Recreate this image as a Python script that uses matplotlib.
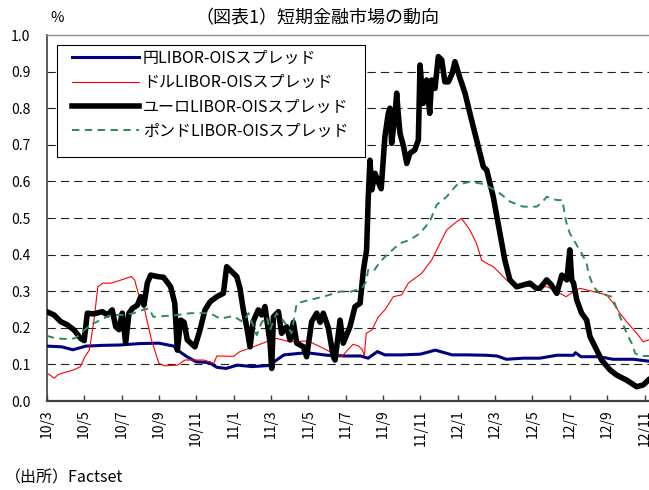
import matplotlib
matplotlib.use("Agg")
import matplotlib.pyplot as plt
from matplotlib.patches import Rectangle

plt.rcParams['font.family'] = ['Noto Sans CJK JP', 'DejaVu Sans']

# x positions are months counted from March 2010 (0 = 10/3)
tick_pos = list(range(0, 33, 2))
tick_labels = ['10/3', '10/5', '10/7', '10/9', '10/11', '11/1', '11/3', '11/5', '11/7',
               '11/9', '11/11', '12/1', '12/3', '12/5', '12/7', '12/9', '12/11']

yen_m = [0, 0.8, 1.4, 2.1, 3.0, 3.9, 5.0, 6.0, 6.8, 7.0, 7.5, 8.0, 8.7, 9.1, 9.6, 10.2,
         11.0, 11.9, 12.3, 12.7, 13.9, 15.0, 16.0, 16.8, 17.2, 17.7, 18.1, 19.0, 20.0,
         20.8, 21.7, 22.5, 23.5, 24.1, 24.6, 25.5, 26.4, 27.3, 28.2, 28.3, 28.6, 29.6,
         30.3, 31.4, 32.2]
yen_v = [0.150, 0.148, 0.140, 0.150, 0.152, 0.153, 0.157, 0.158, 0.150, 0.139, 0.121,
         0.107, 0.105, 0.092, 0.089, 0.098, 0.094, 0.097, 0.112, 0.126, 0.132, 0.125,
         0.123, 0.123, 0.117, 0.135, 0.126, 0.126, 0.128, 0.139, 0.126, 0.126, 0.125,
         0.123, 0.114, 0.117, 0.117, 0.125, 0.125, 0.132, 0.121, 0.121, 0.114, 0.114,
         0.109]

usd_m = [0, 0.2, 0.4, 0.6, 0.9, 1.45, 1.8, 2.04, 2.28, 2.55, 2.73, 3.0, 3.45, 4.0, 4.52,
         4.7, 4.9, 5.24, 5.6, 6.0, 6.3, 7.0, 7.4, 7.7, 8.4, 8.95, 9.1, 10.0, 10.34, 11.05,
         11.77, 12.3, 13.0, 14.0, 14.8, 15.34, 15.79, 16.1, 16.4, 16.7, 16.9, 17.0, 17.1,
         17.4, 17.75, 18.1, 18.55, 19.0, 19.35, 20.07, 20.6, 21.05, 21.4, 21.94, 22.2,
         22.65, 23.0, 23.28, 23.55, 23.9, 24.26, 24.6, 25.0, 26.04, 26.8, 27.47, 27.8,
         28.2, 28.54, 29.26, 29.97, 30.33, 30.69, 31.04, 31.58, 31.93, 32.24]
usd_v = [0.076, 0.070, 0.062, 0.072, 0.077, 0.085, 0.094, 0.121, 0.139, 0.230, 0.312,
         0.322, 0.322, 0.331, 0.340, 0.331, 0.294, 0.249, 0.167, 0.103, 0.096, 0.098,
         0.112, 0.112, 0.112, 0.103, 0.123, 0.122, 0.135, 0.148, 0.162, 0.171, 0.162,
         0.164, 0.144, 0.130, 0.121, 0.139, 0.155, 0.150, 0.139, 0.123, 0.185, 0.194,
         0.230, 0.249, 0.285, 0.290, 0.322, 0.349, 0.385, 0.431, 0.467, 0.490, 0.499,
         0.467, 0.431, 0.385, 0.376, 0.367, 0.349, 0.331, 0.317, 0.312, 0.312, 0.294,
         0.285, 0.299, 0.308, 0.299, 0.290, 0.267, 0.239, 0.217, 0.185, 0.162, 0.167]

eur_m = [0.0, 0.39, 0.74, 1.1, 1.46, 1.81, 2.0, 2.17, 2.5, 2.97, 3.25, 3.5, 3.69, 3.86,
         4.04, 4.22, 4.4, 4.58, 4.85, 5.03, 5.2, 5.38, 5.56, 5.92, 6.25, 6.63, 6.85, 6.99,
         7.17, 7.35, 7.52, 7.67, 7.93, 8.2, 8.47, 8.74, 9.1, 9.45, 9.63, 9.81, 10.17,
         10.34, 10.52, 10.7, 10.88, 11.05, 11.32, 11.5, 11.68, 11.95, 12.04, 12.13, 12.4,
         12.57, 12.84, 13.02, 13.2, 13.38, 13.74, 13.91, 14.18, 14.45, 14.63, 14.8, 15.07,
         15.34, 15.43, 15.7, 15.87, 16.23, 16.5, 16.77, 16.86, 16.95, 17.12, 17.21, 17.3,
         17.4, 17.57, 17.84, 17.9, 18.1, 18.28, 18.37, 18.46, 18.64, 18.73, 18.82, 18.91,
         19.1, 19.27, 19.44, 19.7, 19.89, 19.98, 20.15, 20.33, 20.5, 20.6, 20.78, 20.96,
         21.14, 21.31, 21.5, 21.7, 21.85, 22.12, 22.39, 22.65, 23.01, 23.37, 23.55, 23.9,
         24.26, 24.52, 24.79, 25.15, 25.86, 26.2, 26.4, 26.76, 27.0, 27.3, 27.57, 27.84,
         28.0, 28.1, 28.2, 28.37, 28.63, 28.9, 29.08, 29.35, 29.7, 30.15, 30.5, 31.04,
         31.58, 31.93, 32.2]
eur_v = [0.244, 0.235, 0.217, 0.208, 0.194, 0.171, 0.165, 0.240, 0.238, 0.244, 0.235,
         0.249, 0.203, 0.195, 0.240, 0.158, 0.240, 0.253, 0.262, 0.285, 0.262, 0.322,
         0.344, 0.340, 0.338, 0.312, 0.267, 0.139, 0.221, 0.215, 0.167, 0.160, 0.148,
         0.194, 0.249, 0.271, 0.285, 0.294, 0.367, 0.358, 0.340, 0.308, 0.249, 0.203,
         0.148, 0.217, 0.249, 0.235, 0.258, 0.160, 0.089, 0.230, 0.244, 0.185, 0.203,
         0.167, 0.215, 0.158, 0.148, 0.121, 0.217, 0.240, 0.215, 0.240, 0.200, 0.121,
         0.112, 0.221, 0.158, 0.203, 0.258, 0.267, 0.312, 0.358, 0.413, 0.558, 0.658,
         0.577, 0.622, 0.586, 0.580, 0.722, 0.786, 0.800, 0.704, 0.780, 0.841, 0.780,
         0.731, 0.695, 0.649, 0.677, 0.686, 0.713, 0.918, 0.813, 0.877, 0.786, 0.877,
         0.854, 0.941, 0.932, 0.872, 0.872, 0.895, 0.927, 0.882, 0.841, 0.786, 0.713,
         0.640, 0.631, 0.558, 0.458, 0.385, 0.331, 0.312, 0.322, 0.308, 0.308, 0.331,
         0.318, 0.294, 0.344, 0.331, 0.413, 0.331, 0.322, 0.276, 0.240, 0.221, 0.176,
         0.148, 0.112, 0.085, 0.071, 0.057, 0.039, 0.044, 0.057]

gbp_m = [0, 0.5, 1.2, 1.55, 1.9, 2.35, 2.7, 3.42, 4.1, 4.65, 5.2, 5.47, 5.7, 6.3, 7.0,
         7.7, 8.74, 9.27, 9.98, 10.5, 10.8, 11.24, 11.5, 11.77, 11.95, 12.3, 12.66, 13.0,
         13.1, 13.38, 13.9, 14.8, 15.7, 16.3, 16.86, 17.1, 17.2, 17.5, 17.75, 18.1, 18.9,
         19.44, 19.97, 20.5, 20.87, 21.4, 21.94, 22.65, 23.37, 23.82, 24.26, 24.79, 25.5,
         26.23, 26.5, 26.76, 27.3, 27.6, 27.8, 28.0, 28.37, 28.63, 28.9, 29.0, 29.26, 29.6,
         30.24, 30.33, 30.69, 31.04, 31.31, 31.5, 31.8, 32.24]
gbp_v = [0.178, 0.171, 0.169, 0.172, 0.189, 0.208, 0.217, 0.235, 0.235, 0.240, 0.250,
         0.253, 0.230, 0.232, 0.235, 0.240, 0.240, 0.225, 0.232, 0.216, 0.240, 0.180,
         0.215, 0.230, 0.194, 0.240, 0.220, 0.194, 0.185, 0.267, 0.274, 0.285, 0.299,
         0.299, 0.308, 0.326, 0.358, 0.355, 0.374, 0.394, 0.431, 0.440, 0.458, 0.490,
         0.536, 0.558, 0.590, 0.599, 0.593, 0.581, 0.567, 0.545, 0.531, 0.531, 0.542,
         0.558, 0.549, 0.549, 0.490, 0.458, 0.426, 0.404, 0.376, 0.349, 0.312, 0.294,
         0.285, 0.276, 0.230, 0.185, 0.158, 0.130, 0.123, 0.123]

series_names = ['円LIBOR-OISスプレッド', 'ドルLIBOR-OISスプレッド',
                'ユーロLIBOR-OISスプレッド', 'ポンドLIBOR-OISスプレッド']

W, H = 649, 490
fig = plt.figure(figsize=(W / 100, H / 100), dpi=100)
left_px, top_px, bottom_px = 46.8, 35, 401
ax = fig.add_axes([left_px / W, 1 - bottom_px / H, 1 - left_px / W, (bottom_px - top_px) / H])

h_yen, = ax.plot(yen_m, yen_v, color='#000080', lw=2.2, zorder=3)
h_usd, = ax.plot(usd_m, usd_v, color='#FF0000', lw=0.8, zorder=3)
h_eur, = ax.plot(eur_m, eur_v, color='black', lw=4.0, zorder=3,
                 solid_joinstyle='round')
h_gbp, = ax.plot(gbp_m, gbp_v, color='#2E8B57', lw=1.4, zorder=3,
                 linestyle=(0, (3.8, 2.8)))

ax.set_xlim(0, (W - left_px) / 18.68)
ax.set_ylim(0, 1.0)

yticks = [i / 10 for i in range(11)]
ax.set_yticks(yticks)
ax.set_yticklabels([f'{v:.1f}' for v in yticks], fontsize=10)
ax.set_xticks(tick_pos)
ax.set_xticklabels(tick_labels, rotation=90, fontsize=10)

for v in yticks[1:-1]:
    ax.axhline(v, color='#222222', lw=0.8, linestyle=(0, (7.5, 4.5)), zorder=1)

ax.tick_params(axis='y', length=0, pad=12)
ax.tick_params(axis='x', direction='in', length=4, width=1, color='#404040', pad=6)

for s in ('right',):
    ax.spines[s].set_visible(False)
ax.spines['top'].set_color('#909090')
ax.spines['top'].set_linewidth(1.0)
ax.spines['left'].set_color('#404040')
ax.spines['left'].set_linewidth(1.2)
ax.spines['bottom'].set_color('#404040')
ax.spines['bottom'].set_linewidth(1.6)

# legend frame drawn as a plain box, entries placed inside it
box = Rectangle((57.3 / W, 1 - 156.7 / H), (365 - 57.3) / W, (156.7 - 45) / H,
                transform=fig.transFigure, facecolor='white', edgecolor='black',
                lw=0.8, zorder=4)
ax.add_patch(box)
leg = ax.legend([h_yen, h_usd, h_eur, h_gbp], series_names, frameon=False,
                loc='upper left', bbox_to_anchor=(71.7 / W, 1 - 50 / H),
                bbox_transform=fig.transFigure, borderpad=0, borderaxespad=0,
                handlelength=4.2, handletextpad=0.25, labelspacing=0.45,
                fontsize=11.5)
leg.set_zorder(5)

fig.text(317 / W, 1 - 18 / H, '（図表1）短期金融市場の動向', ha='center', va='center',
         fontsize=13)
fig.text(50 / W, 1 - 18 / H, '%', ha='left', va='center', fontsize=10.5)
fig.text(5 / W, 1 - 478 / H, '（出所）Factset', ha='left', va='center', fontsize=11.5)

fig.savefig('out.png', dpi=100)
